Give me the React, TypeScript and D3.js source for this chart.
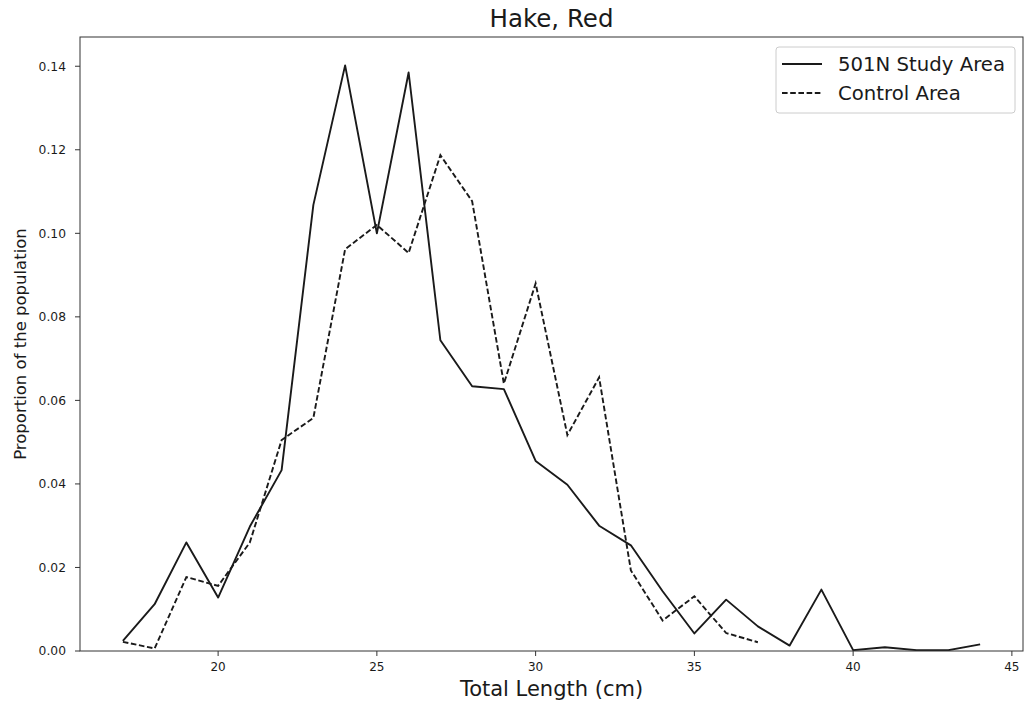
import React from "react";
import * as d3 from "d3";

const lengths = [17, 18, 19, 20, 21, 22, 23, 24, 25, 26, 27, 28, 29, 30, 31, 32, 33, 34, 35, 36, 37, 38, 39, 40, 41, 42, 43, 44];
const studyArea = [0.0024, 0.0112, 0.0260, 0.0128, 0.0298, 0.0433, 0.1068, 0.1402, 0.1000, 0.1385, 0.0744, 0.0634, 0.0627, 0.0455, 0.0398, 0.0300, 0.0253, 0.0143, 0.0042, 0.0123, 0.0059, 0.0013, 0.0147, 0.0002, 0.0009, 0.0002, 0.0002, 0.0016];
const controlLengths = [17, 18, 19, 20, 21, 22, 23, 24, 25, 26, 27, 28, 29, 30, 31, 32, 33, 34, 35, 36, 37];
const controlArea = [0.0022, 0.0006, 0.0177, 0.0156, 0.0260, 0.0505, 0.0558, 0.0962, 0.1020, 0.0953, 0.1187, 0.1077, 0.0640, 0.0880, 0.0517, 0.0655, 0.0193, 0.0073, 0.0131, 0.0043, 0.0021];
const xTicks = [20, 25, 30, 35, 40, 45];
const yTicks = [0, 0.02, 0.04, 0.06, 0.08, 0.1, 0.12, 0.14];
const seriesNames = ["501N Study Area", "Control Area"];

const W = 1024;
const H = 706;
const left = 80;
const right = 1023;
const top = 37;
const bottom = 651;
const FONT = "'DejaVu Sans', sans-serif";

export default function App() {
  const x = d3.scaleLinear().domain([15.65, 45.35]).range([left, right]);
  const y = d3.scaleLinear().domain([0, 0.147]).range([bottom, top]);
  const line = d3
    .line<[number, number]>()
    .x((d) => x(d[0]))
    .y((d) => y(d[1]));
  const studyPts: [number, number][] = lengths.map((l, i) => [l, studyArea[i]]);
  const controlPts: [number, number][] = controlLengths.map((l, i) => [l, controlArea[i]]);

  return (
    <svg width={W} height={H} style={{ position: "absolute", left: 0, top: 0 }} fontFamily={FONT}>
      <rect x={0} y={0} width={W} height={H} fill="#fff" />
      <text x={(left + right) / 2} y={27} textAnchor="middle" fontSize={24.5} fill="#1a1a1a">
        Hake, Red
      </text>
      <defs>
        <clipPath id="plotclip">
          <rect x={left} y={top} width={right - left} height={bottom - top} />
        </clipPath>
      </defs>
      <g clipPath="url(#plotclip)">
        <path d={line(studyPts) || ""} fill="none" stroke="#1a1a1a" strokeWidth={1.9} strokeLinejoin="round" />
        <path d={line(controlPts) || ""} fill="none" stroke="#1a1a1a" strokeWidth={1.9} strokeDasharray="5.6,2.6" />
      </g>
      <rect x={left} y={top} width={right - left} height={bottom - top} fill="none" stroke="#333" strokeWidth={1} />
      {xTicks.map((t) => (
        <g key={"x" + t}>
          <line x1={x(t)} x2={x(t)} y1={bottom} y2={bottom + 5} stroke="#333" strokeWidth={1} />
          <text x={x(t)} y={671} textAnchor="middle" fontSize={12} fill="#1a1a1a">
            {t}
          </text>
        </g>
      ))}
      {yTicks.map((t) => (
        <g key={"y" + t}>
          <line x1={left - 5} x2={left} y1={y(t)} y2={y(t)} stroke="#333" strokeWidth={1} />
          <text x={66} y={y(t) + 4.3} textAnchor="end" fontSize={12.3} fill="#1a1a1a">
            {t.toFixed(2)}
          </text>
        </g>
      ))}
      <text x={(left + right) / 2} y={696} textAnchor="middle" fontSize={21} fill="#1a1a1a">
        Total Length (cm)
      </text>
      <text
        transform={`translate(26,${(top + bottom) / 2}) rotate(-90)`}
        textAnchor="middle"
        fontSize={16.5}
        fill="#1a1a1a"
      >
        Proportion of the population
      </text>
      <g>
        <rect x={776} y={47} width={239} height={66} rx={3} fill="#fff" fillOpacity={0.8} stroke="#ccc" strokeWidth={1} />
        <line x1={782} x2={822} y1={64} y2={64} stroke="#1a1a1a" strokeWidth={1.9} />
        <line x1={782} x2={822} y1={93} y2={93} stroke="#1a1a1a" strokeWidth={1.9} strokeDasharray="5.6,2.6" />
        <text x={838} y={71} fontSize={19.7} fill="#1a1a1a">
          {seriesNames[0]}
        </text>
        <text x={838} y={100} fontSize={19.7} fill="#1a1a1a">
          {seriesNames[1]}
        </text>
      </g>
    </svg>
  );
}
